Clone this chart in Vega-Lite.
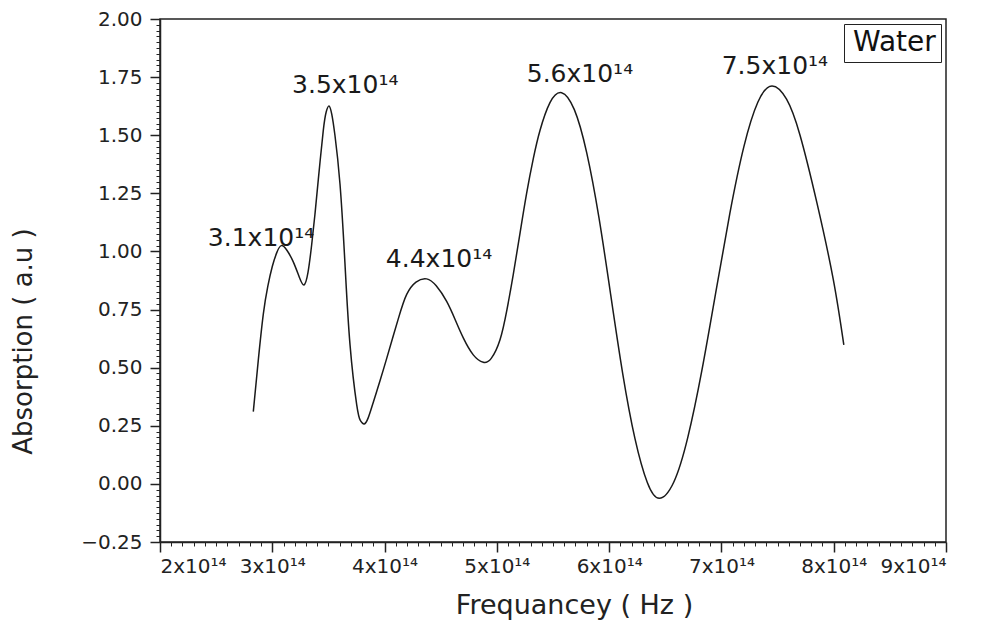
{
  "$schema": "https://vega.github.io/schema/vega-lite/v6.json",
  "width": 786,
  "height": 523,
  "autosize": {"type": "none"},
  "padding": {"left": 160, "top": 19, "right": 45, "bottom": 87},
  "background": "white",
  "config": {
    "view": {"stroke": "#222", "strokeWidth": 1.5},
    "font": "DejaVu Sans",
    "axis": {"labelFont": "DejaVu Sans", "titleFont": "DejaVu Sans", "titleFontWeight": "normal", "grid": false, "domainColor": "#222", "tickColor": "#222", "labelColor": "#222", "titleColor": "#222"},
    "legend": {"labelFont": "DejaVu Sans"}
  },
  "datasets": {
    "spectrum": [
      {"freq": 2.831e14, "absorption": 0.311},
      {"freq": 2.875e14, "absorption": 0.53},
      {"freq": 2.920e14, "absorption": 0.73},
      {"freq": 2.960e14, "absorption": 0.85},
      {"freq": 3.000e14, "absorption": 0.935},
      {"freq": 3.040e14, "absorption": 0.995},
      {"freq": 3.080e14, "absorption": 1.025},
      {"freq": 3.13e14, "absorption": 1.005},
      {"freq": 3.187e14, "absorption": 0.955},
      {"freq": 3.24e14, "absorption": 0.89},
      {"freq": 3.282e14, "absorption": 0.856},
      {"freq": 3.318e14, "absorption": 0.91},
      {"freq": 3.351e14, "absorption": 1.03},
      {"freq": 3.38e14, "absorption": 1.16},
      {"freq": 3.41e14, "absorption": 1.31},
      {"freq": 3.454e14, "absorption": 1.52},
      {"freq": 3.48e14, "absorption": 1.60},
      {"freq": 3.505e14, "absorption": 1.626},
      {"freq": 3.53e14, "absorption": 1.59},
      {"freq": 3.558e14, "absorption": 1.50},
      {"freq": 3.603e14, "absorption": 1.29},
      {"freq": 3.647e14, "absorption": 0.95},
      {"freq": 3.692e14, "absorption": 0.60},
      {"freq": 3.752e14, "absorption": 0.34},
      {"freq": 3.785e14, "absorption": 0.272},
      {"freq": 3.819e14, "absorption": 0.258},
      {"freq": 3.855e14, "absorption": 0.285},
      {"freq": 3.899e14, "absorption": 0.35},
      {"freq": 3.96e14, "absorption": 0.445},
      {"freq": 4.019e14, "absorption": 0.54},
      {"freq": 4.122e14, "absorption": 0.71},
      {"freq": 4.197e14, "absorption": 0.815},
      {"freq": 4.28e14, "absorption": 0.868},
      {"freq": 4.375e14, "absorption": 0.882},
      {"freq": 4.46e14, "absorption": 0.852},
      {"freq": 4.553e14, "absorption": 0.785},
      {"freq": 4.63e14, "absorption": 0.705},
      {"freq": 4.701e14, "absorption": 0.628},
      {"freq": 4.79e14, "absorption": 0.555},
      {"freq": 4.879e14, "absorption": 0.523},
      {"freq": 4.95e14, "absorption": 0.54},
      {"freq": 5.028e14, "absorption": 0.62},
      {"freq": 5.09e14, "absorption": 0.75},
      {"freq": 5.146e14, "absorption": 0.90},
      {"freq": 5.205e14, "absorption": 1.075},
      {"freq": 5.265e14, "absorption": 1.25},
      {"freq": 5.325e14, "absorption": 1.40},
      {"freq": 5.384e14, "absorption": 1.52},
      {"freq": 5.473e14, "absorption": 1.64},
      {"freq": 5.577e14, "absorption": 1.683},
      {"freq": 5.69e14, "absorption": 1.61},
      {"freq": 5.80e14, "absorption": 1.425},
      {"freq": 5.91e14, "absorption": 1.143},
      {"freq": 6.015e14, "absorption": 0.81},
      {"freq": 6.12e14, "absorption": 0.477},
      {"freq": 6.23e14, "absorption": 0.195},
      {"freq": 6.34e14, "absorption": 0.006},
      {"freq": 6.446e14, "absorption": -0.062},
      {"freq": 6.575e14, "absorption": 0.007},
      {"freq": 6.70e14, "absorption": 0.199},
      {"freq": 6.825e14, "absorption": 0.486},
      {"freq": 6.95e14, "absorption": 0.825},
      {"freq": 7.075e14, "absorption": 1.164},
      {"freq": 7.20e14, "absorption": 1.451},
      {"freq": 7.325e14, "absorption": 1.643},
      {"freq": 7.45e14, "absorption": 1.712},
      {"freq": 7.58e14, "absorption": 1.655},
      {"freq": 7.70e14, "absorption": 1.50},
      {"freq": 7.85e14, "absorption": 1.21},
      {"freq": 7.996e14, "absorption": 0.88},
      {"freq": 8.09e14, "absorption": 0.598}
    ],
    "peaks": [
      {"freq": 2.90e14, "absorption": 1.024, "label": "3.1x10¹⁴"},
      {"freq": 3.65e14, "absorption": 1.682, "label": "3.5x10¹⁴"},
      {"freq": 4.485e14, "absorption": 0.935, "label": "4.4x10¹⁴"},
      {"freq": 5.74e14, "absorption": 1.729, "label": "5.6x10¹⁴"},
      {"freq": 7.476e14, "absorption": 1.764, "label": "7.5x10¹⁴"}
    ]
  },
  "layer": [
    {
      "data": {"name": "spectrum"},
      "mark": {"type": "line", "interpolate": "natural", "strokeWidth": 1.5},
      "encoding": {
        "x": {
          "field": "freq", "type": "quantitative",
          "scale": {"domain": [2e14, 9e14], "nice": false, "zero": false},
          "axis": {
            "orient": "bottom",
            "values": [2e14, 3e14, 4e14, 5e14, 6e14, 7e14, 8e14, 9e14],
            "labelExpr": "format(datum.value / 1e14, 'd') + 'x10¹⁴'",
            "tickSize": 10, "tickWidth": 1.5, "domainWidth": 1.5,
            "labelFontSize": 20, "labelPadding": 4,
            "title": "Frequancey ( Hz )", "titleFontSize": 27, "titlePadding": 16, "titleX": 414
          }
        },
        "y": {
          "field": "absorption", "type": "quantitative",
          "scale": {"domain": [-0.25, 2.0], "nice": false, "zero": false},
          "axis": {
            "orient": "left",
            "values": [-0.25, 0, 0.25, 0.5, 0.75, 1.0, 1.25, 1.5, 1.75, 2.0],
            "format": ".2f",
            "tickSize": 10, "tickWidth": 1.5, "domainWidth": 1.5,
            "labelFontSize": 20, "labelPadding": 8,
            "title": "Absorption ( a.u )", "titleFontSize": 26, "titlePadding": 44, "titleY": 322
          }
        },
        "color": {
          "datum": "Water",
          "scale": {"range": ["#1a1a1a"]},
          "legend": {
            "title": null, "orient": "top-right", "offset": 5,
            "strokeColor": "#222", "fillColor": "white", "padding": 5,
            "symbolType": "circle", "symbolSize": 0, "symbolOpacity": 0, "symbolStrokeWidth": 0,
            "labelFontSize": 28, "labelColor": "#111", "labelOffset": -24
          }
        }
      }
    },
    {
      "data": {"name": "peaks"},
      "mark": {"type": "text", "align": "center", "baseline": "alphabetic", "fontSize": 25, "color": "#1a1a1a"},
      "encoding": {
        "x": {
          "field": "freq", "type": "quantitative",
          "axis": {
            "orient": "bottom", "labels": false, "domain": false, "title": null, "tickSize": 4, "tickWidth": 1,
            "values": [2.1e14, 2.2e14, 2.3e14, 2.4e14, 2.5e14, 2.6e14, 2.7e14, 2.8e14, 2.9e14,
                       3.1e14, 3.2e14, 3.3e14, 3.4e14, 3.5e14, 3.6e14, 3.7e14, 3.8e14, 3.9e14,
                       4.1e14, 4.2e14, 4.3e14, 4.4e14, 4.5e14, 4.6e14, 4.7e14, 4.8e14, 4.9e14,
                       5.1e14, 5.2e14, 5.3e14, 5.4e14, 5.5e14, 5.6e14, 5.7e14, 5.8e14, 5.9e14,
                       6.1e14, 6.2e14, 6.3e14, 6.4e14, 6.5e14, 6.6e14, 6.7e14, 6.8e14, 6.9e14,
                       7.1e14, 7.2e14, 7.3e14, 7.4e14, 7.5e14, 7.6e14, 7.7e14, 7.8e14, 7.9e14,
                       8.1e14, 8.2e14, 8.3e14, 8.4e14, 8.5e14, 8.6e14, 8.7e14, 8.8e14, 8.9e14]
          }
        },
        "y": {
          "field": "absorption", "type": "quantitative",
          "axis": {
            "orient": "left", "labels": false, "domain": false, "title": null, "tickSize": 4, "tickWidth": 1,
            "values": [-0.225, -0.2, -0.175, -0.15, -0.125, -0.1, -0.075, -0.05, -0.025,
                       0.025, 0.05, 0.075, 0.1, 0.125, 0.15, 0.175, 0.2, 0.225,
                       0.275, 0.3, 0.325, 0.35, 0.375, 0.4, 0.425, 0.45, 0.475,
                       0.525, 0.55, 0.575, 0.6, 0.625, 0.65, 0.675, 0.7, 0.725,
                       0.775, 0.8, 0.825, 0.85, 0.875, 0.9, 0.925, 0.95, 0.975,
                       1.025, 1.05, 1.075, 1.1, 1.125, 1.15, 1.175, 1.2, 1.225,
                       1.275, 1.3, 1.325, 1.35, 1.375, 1.4, 1.425, 1.45, 1.475,
                       1.525, 1.55, 1.575, 1.6, 1.625, 1.65, 1.675, 1.7, 1.725,
                       1.775, 1.8, 1.825, 1.85, 1.875, 1.9, 1.925, 1.95, 1.975]
          }
        },
        "text": {"field": "label"}
      }
    }
  ],
  "resolve": {"axis": {"x": "independent", "y": "independent"}}
}
